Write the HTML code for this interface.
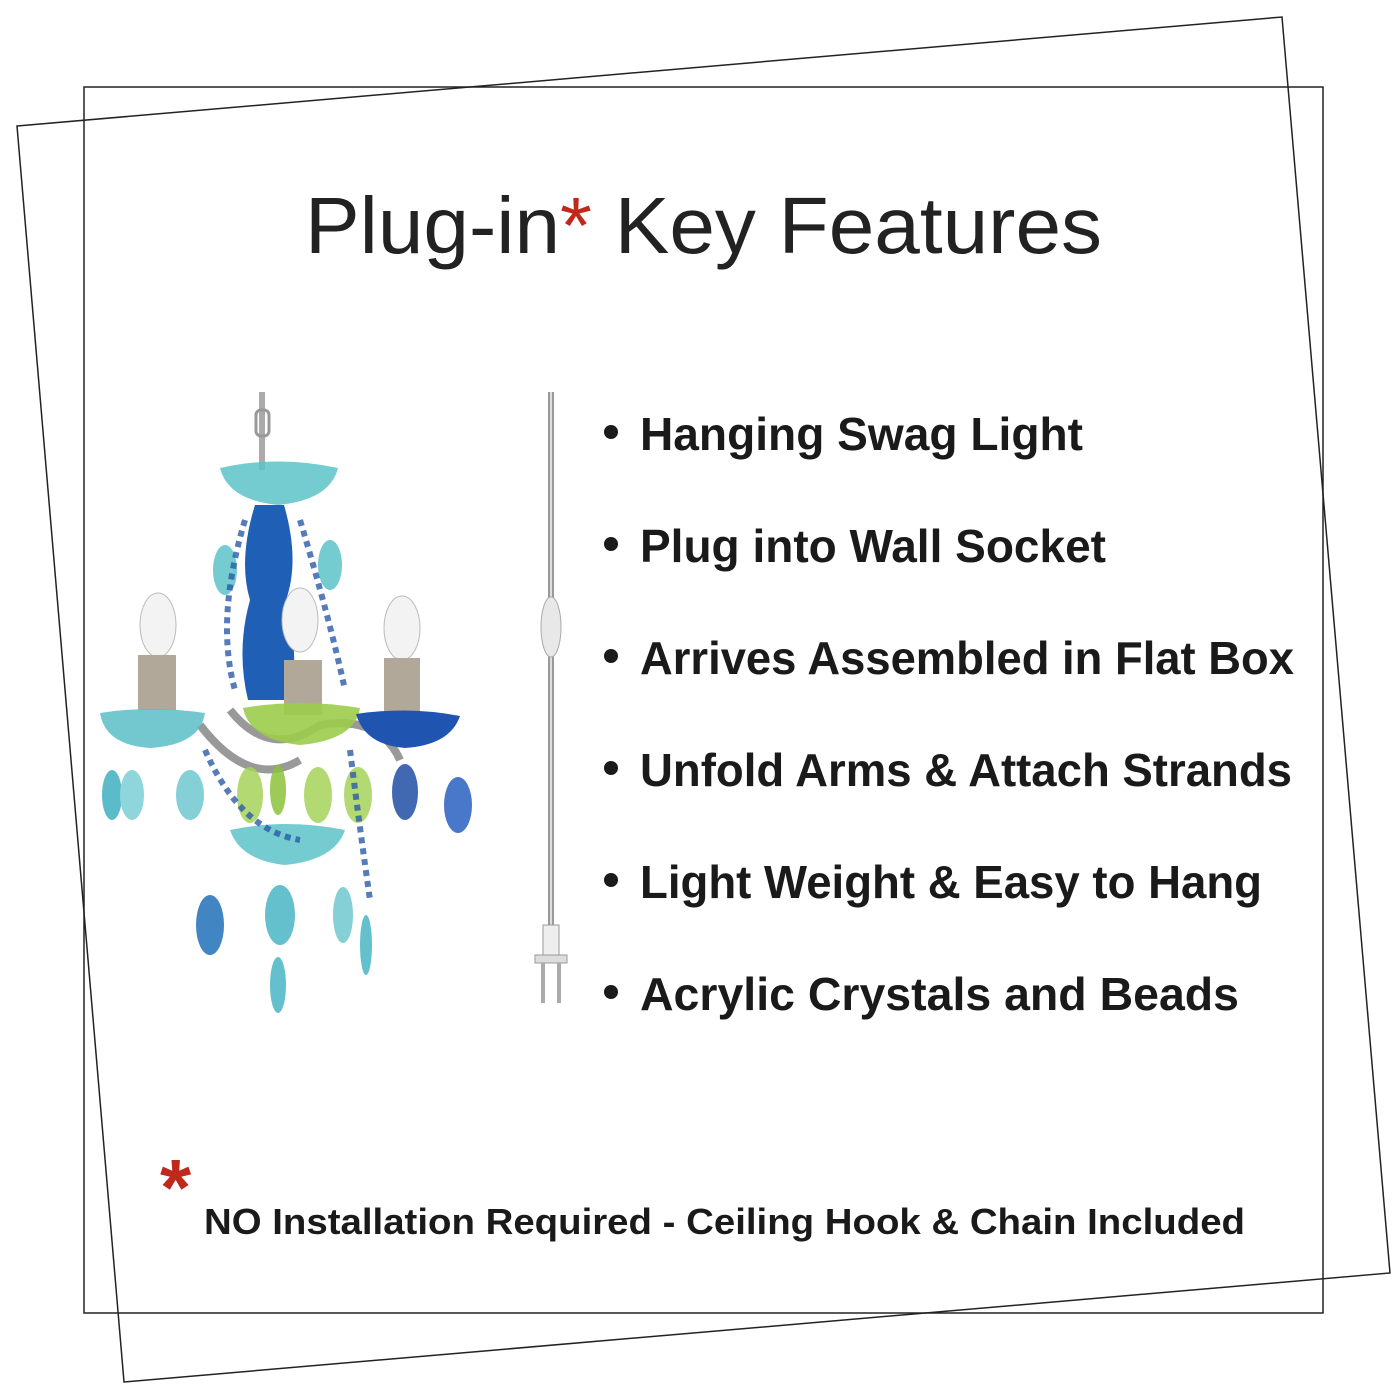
<!DOCTYPE html>
<html><head><meta charset="utf-8"><style>html,body{margin:0;padding:0;background:#fff}svg{display:block}</style></head><body>
<svg width="1400" height="1400" viewBox="0 0 1400 1400" xmlns="http://www.w3.org/2000/svg">
<rect width="1400" height="1400" fill="#fff"/>
<polygon points="17,126 1282,17 1390,1273 124,1382" fill="none" stroke="#222" stroke-width="1.5"/>
<rect x="84" y="87" width="1239" height="1226" fill="none" stroke="#222" stroke-width="1.5"/>
<text x="305" y="253" font-family="Liberation Sans, sans-serif" font-size="80" fill="#222" textLength="797" lengthAdjust="spacingAndGlyphs">Plug-in<tspan fill="#c0281c">*</tspan> Key Features</text>
<g font-family="Liberation Sans, DejaVu Sans, sans-serif" font-weight="bold" font-size="46" fill="#1a1a1a">
<circle cx="611" cy="432" r="7"/><text x="640" y="450" textLength="443" lengthAdjust="spacingAndGlyphs">Hanging Swag Light</text>
<circle cx="611" cy="544" r="7"/><text x="640" y="562" textLength="466" lengthAdjust="spacingAndGlyphs">Plug into Wall Socket</text>
<circle cx="611" cy="656" r="7"/><text x="640" y="674" textLength="654" lengthAdjust="spacingAndGlyphs">Arrives Assembled in Flat Box</text>
<circle cx="611" cy="768" r="7"/><text x="640" y="786" textLength="652" lengthAdjust="spacingAndGlyphs">Unfold Arms &amp; Attach Strands</text>
<circle cx="611" cy="880" r="7"/><text x="640" y="898" textLength="622" lengthAdjust="spacingAndGlyphs">Light Weight &amp; Easy to Hang</text>
<circle cx="611" cy="992" r="7"/><text x="640" y="1010" textLength="599" lengthAdjust="spacingAndGlyphs">Acrylic Crystals and Beads</text>
<text x="204" y="1234" font-size="36" textLength="1041" lengthAdjust="spacingAndGlyphs">NO Installation Required - Ceiling Hook &amp; Chain Included</text>
</g>
<text x="160" y="1215" font-family="Liberation Sans, sans-serif" font-weight="bold" font-size="80" fill="#c0281c">*</text>
<!-- cord -->
<line x1="551" y1="392" x2="551" y2="935" stroke="#999" stroke-width="6"/>
<line x1="551" y1="392" x2="551" y2="935" stroke="#ddd" stroke-width="2"/>
<ellipse cx="551" cy="627" rx="10" ry="30" fill="#e8e8e8" stroke="#aaa"/>
<rect x="543" y="925" width="16" height="30" fill="#eee" stroke="#999"/>
<rect x="535" y="955" width="32" height="8" fill="#ddd" stroke="#999"/>
<rect x="541" y="963" width="4" height="40" fill="#aaa"/><rect x="557" y="963" width="4" height="40" fill="#aaa"/>
<!-- chandelier -->
<line x1="262" y1="392" x2="262" y2="470" stroke="#aaa" stroke-width="6"/>
<rect x="256" y="410" width="13" height="26" rx="5" fill="none" stroke="#999" stroke-width="3"/>
<path d="M220,468 Q278,455 338,468 Q330,500 278,505 Q228,500 220,468Z" fill="#5cc2c8" opacity=".85"/>
<path d="M255,505 Q238,560 250,600 Q236,650 248,700 L290,700 Q300,650 286,600 Q300,560 284,505Z" fill="#1f5fb5"/>
<path d="M230,710 Q270,760 320,725 Q380,715 400,760" fill="none" stroke="#999" stroke-width="8"/>
<path d="M200,725 Q250,790 300,760" fill="none" stroke="#999" stroke-width="8"/>
<ellipse cx="158" cy="625" rx="18" ry="32" fill="#f3f3f3" stroke="#bbb"/>
<ellipse cx="300" cy="620" rx="18" ry="32" fill="#f3f3f3" stroke="#bbb"/>
<ellipse cx="402" cy="628" rx="18" ry="32" fill="#f3f3f3" stroke="#bbb"/>
<rect x="138" y="655" width="38" height="55" fill="#b2a89a"/>
<rect x="284" y="660" width="38" height="55" fill="#b2a89a"/>
<rect x="384" y="658" width="36" height="55" fill="#b2a89a"/>
<path d="M100,713 Q150,705 205,713 Q200,745 150,748 Q105,745 100,713Z" fill="#5bbec8" opacity=".85"/>
<path d="M243,708 Q300,698 360,708 Q355,740 300,745 Q250,740 243,708Z" fill="#9ccc4a" opacity=".9"/>
<path d="M356,714 Q410,706 460,716 Q450,745 405,748 Q365,745 356,714Z" fill="#1f55b0"/>
<path d="M230,830 Q285,818 345,830 Q335,860 285,865 Q240,860 230,830Z" fill="#5cc2c8" opacity=".85"/>
<g opacity=".85">
<ellipse cx="112" cy="795" rx="10" ry="25" fill="#3fb0c0"/><ellipse cx="132" cy="795" rx="12" ry="25" fill="#7ccfd6"/>
<ellipse cx="222" cy="715" rx="0" ry="0" fill="#000"/>
<ellipse cx="225" cy="570" rx="12" ry="25" fill="#5cc2c8"/><ellipse cx="330" cy="565" rx="12" ry="25" fill="#5cc2c8"/>
<ellipse cx="190" cy="795" rx="14" ry="25" fill="#6fc8d0"/>
<ellipse cx="250" cy="795" rx="13" ry="28" fill="#a6d35a"/><ellipse cx="318" cy="795" rx="14" ry="28" fill="#a6d35a"/>
<ellipse cx="358" cy="795" rx="14" ry="28" fill="#a6d35a"/><ellipse cx="278" cy="790" rx="8" ry="25" fill="#8cc23c"/>
<ellipse cx="405" cy="792" rx="13" ry="28" fill="#1f4fa5"/><ellipse cx="458" cy="805" rx="14" ry="28" fill="#2a60c0"/>
<ellipse cx="210" cy="925" rx="14" ry="30" fill="#2070b8"/><ellipse cx="280" cy="915" rx="15" ry="30" fill="#4ab6c4"/>
<ellipse cx="343" cy="915" rx="10" ry="28" fill="#6fc8d0"/><ellipse cx="366" cy="945" rx="6" ry="30" fill="#4ab6c4"/>
<ellipse cx="278" cy="985" rx="8" ry="28" fill="#4ab6c4"/>
</g>
<path d="M245,520 Q215,620 235,690 M300,520 Q330,620 345,690 M205,750 Q240,830 300,840 M350,750 Q360,830 370,900" fill="none" stroke="#2a5aa8" stroke-width="6" stroke-dasharray="6 5" opacity=".8"/>
</svg>
</body></html>
